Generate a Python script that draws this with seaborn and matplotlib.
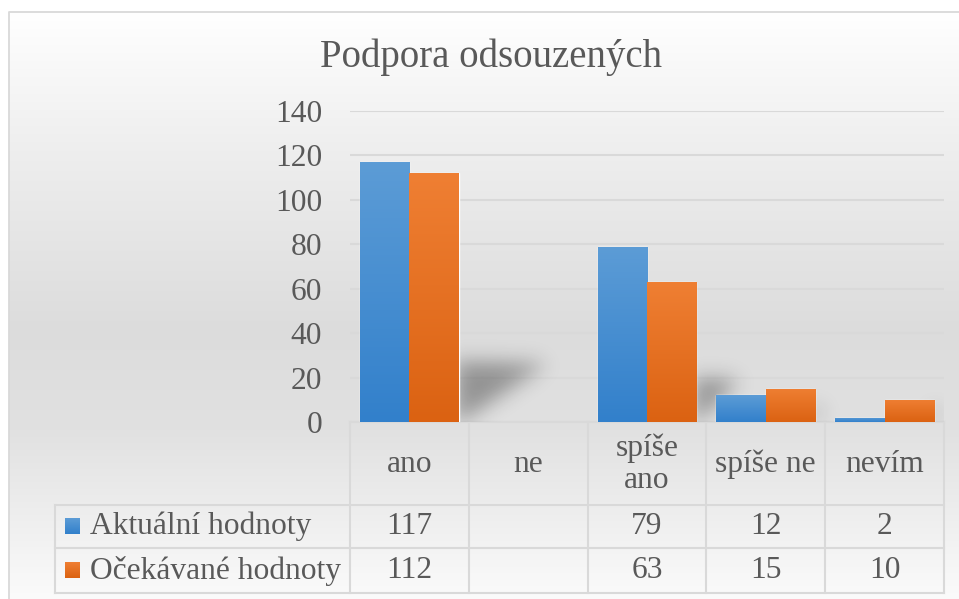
import numpy as np
import pandas as pd
import matplotlib
matplotlib.use("Agg")
import matplotlib.pyplot as plt
import seaborn as sns
from matplotlib.path import Path
from matplotlib.colors import to_rgb

# ---------------- data ----------------
title = "Podpora odsouzených"
categories = ["ano", "ne", "spíše ano", "spíše ne", "nevím"]
header_labels = ["ano", "ne", "spíše\nano", "spíše ne", "nevím"]
series = ["Aktuální hodnoty", "Očekávané hodnoty"]
aktualni = [117, np.nan, 79, 12, 2]
ocekavane = [112, np.nan, 63, 15, 10]
yticks = [0, 20, 40, 60, 80, 100, 120, 140]

# ---------------- style ----------------
sns.set_theme(style="white")
plt.rcParams['font.family'] = ['Liberation Serif', 'DejaVu Serif']

W, H = 959, 599
TXT = '#595959'
LINE = '#d9d9d9'
BLUE_TOP, BLUE_BOT = '#5c9cd6', '#3280cb'
ORG_TOP, ORG_BOT = '#ef7f33', '#db6212'
FS = 22.7

fig = plt.figure(figsize=(W / 100, H / 100), dpi=100)

# background (pixel coordinate axes)
bg = fig.add_axes([0, 0, 1, 1], zorder=-10)
bg.set_axis_off()
yy = np.arange(H)
col = np.interp(yy, [12, 150, 330, 430, 599], [255, 238, 220, 225, 251])
img = np.tile(col[:, None], (1, W))
img[:12, :] = 255
img[:, :9] = 255
bg.imshow(np.dstack([img] * 3) / 255.0, extent=[0, W, H, 0], aspect='auto',
          interpolation='bilinear')
bg.set_xlim(0, W)
bg.set_ylim(H, 0)
bg.plot([9, 9, W + 5], [H + 5, 12, 12], color=LINE, lw=1.3)

# main axes
AX_L, AX_R, AX_T, AX_B = 350, 944, 111, 422
ax = fig.add_axes([AX_L / W, (H - AX_B) / H, (AX_R - AX_L) / W, (AX_B - AX_T) / H])
ax.patch.set_alpha(0)

df = pd.DataFrame({
    "kategorie": categories * 2,
    "serie": [series[0]] * len(categories) + [series[1]] * len(categories),
    "hodnota": aktualni + ocekavane,
})
BW = 0.83
sns.barplot(data=df, x="kategorie", y="hodnota", hue="serie", order=categories,
            hue_order=series, palette=[BLUE_BOT, ORG_BOT], width=BW,
            saturation=1, errorbar=None, legend=False, ax=ax)

ax.set_xlim(-0.5, len(categories) - 0.5)
ax.set_ylim(0, 140)
ax.set_axisbelow(True)
ax.yaxis.grid(True, color=LINE, lw=1.5)
ax.xaxis.grid(False)
for s in ax.spines.values():
    s.set_visible(False)
ax.set_xticks([])
ax.set_yticks(yticks)
ax.set_yticklabels([str(v) for v in yticks], fontsize=FS, color=TXT)
ax.tick_params(axis='y', length=0, pad=20)
ax.set_xlabel('')
ax.set_ylabel('')

# gradient fill for bars
def grad(top, bot, n=128):
    t = np.linspace(0, 1, n)[:, None]
    a, b = np.array(to_rgb(top)), np.array(to_rgb(bot))
    return (a[None, None, :] * (1 - t[..., None]) + b[None, None, :] * t[..., None])

for p in list(ax.patches):
    h = p.get_height()
    if not np.isfinite(h) or h <= 0:
        continue
    fc = np.array(p.get_facecolor()[:3])
    if np.allclose(fc, to_rgb(BLUE_BOT), atol=0.02):
        g = grad(BLUE_TOP, BLUE_BOT)
    else:
        g = grad(ORG_TOP, ORG_BOT)
    p.set_zorder(2)
    x0, w = p.get_x(), p.get_width()
    im = ax.imshow(g, extent=[x0, x0 + w, 0, h], aspect='auto', zorder=2.1,
                   interpolation='bilinear', origin='upper')
    im.set_clip_path(p)

# soft shadow cast by each bar group (size follows the group's height)
nx, ny = AX_R - AX_L, AX_B - AX_T
px = -0.5 + (np.arange(nx) + 0.5) / nx * len(categories)
py = (ny - np.arange(ny) - 0.5) / ny * 140
XX, YY = np.meshgrid(px, py)
pts = np.column_stack([XX.ravel(), YY.ravel()])
mask = np.zeros(XX.size)
for i, (a, b) in enumerate(zip(aktualni, ocekavane)):
    if np.isnan(a) and np.isnan(b):
        continue
    hmax = np.nanmax([a, b])
    s = 4 + 0.2 * hmax
    L = 0.05 + 0.69 * (hmax / 117) ** 2
    xr = i + BW / 2
    poly = Path([(xr - 0.02, 0), (xr - 0.02, s), (xr + L, s * 0.96), (xr + 0.02, 0)])
    mask = np.maximum(mask, poly.contains_points(pts).astype(float))
mask = mask.reshape(ny, nx)
sig = 10
k = np.exp(-0.5 * (np.arange(-3 * sig, 3 * sig + 1) / sig) ** 2)
k /= k.sum()
mask = np.apply_along_axis(lambda r: np.convolve(r, k, mode='same'), 1, mask)
mask = np.apply_along_axis(lambda c: np.convolve(c, k, mode='same'), 0, mask)
rgba = np.zeros((ny, nx, 4))
rgba[..., 3] = np.clip(mask * 0.34, 0, 1)
ax.imshow(rgba, extent=[-0.5, len(categories) - 0.5, 0, 140], aspect='auto',
          zorder=1, interpolation='bilinear')
ax.set_xlim(-0.5, len(categories) - 0.5)
ax.set_ylim(0, 140)

# title
bg.text(491, 57, title, ha='center', va='center', fontsize=28, color=TXT)

# data table
col_edges = [AX_L + (AX_R - AX_L) / len(categories) * k_ for k_ in range(len(categories) + 1)]
TAB_L = 55
R0, R1, R2, R3 = AX_B, 505, 548, 593
lk = dict(color=LINE, lw=1.5, solid_capstyle='projecting')
bg.plot([AX_L, AX_R], [R0, R0], **lk)
for r in (R1, R2, R3):
    bg.plot([TAB_L, AX_R], [r, r], **lk)
for xe in col_edges:
    bg.plot([xe, xe], [R0, R3], **lk)
bg.plot([TAB_L, TAB_L], [R1, R3], **lk)

centers = [(col_edges[i] + col_edges[i + 1]) / 2 for i in range(len(categories))]
for cx, lab in zip(centers, header_labels):
    bg.text(cx, (R0 + R1) / 2 + 1, lab, ha='center', va='center', fontsize=FS,
            color=TXT, linespacing=1.12)

rows = [(series[0], aktualni, BLUE_TOP, BLUE_BOT, (R1 + R2) / 2),
        (series[1], ocekavane, ORG_TOP, ORG_BOT, (R2 + R3) / 2)]
for name, vals, ctop, cbot, cy in rows:
    bg.imshow(grad(ctop, cbot, 32), extent=[65, 80, cy + 8, cy - 8],
              aspect='auto', interpolation='bilinear', origin='upper')
    bg.text(90, cy, name, ha='left', va='center', fontsize=FS, color=TXT)
    for cx, v in zip(centers, vals):
        if np.isfinite(v):
            bg.text(cx, cy, f"{v:g}", ha='center', va='center', fontsize=FS, color=TXT)
bg.set_xlim(0, W)
bg.set_ylim(H, 0)

fig.savefig("out.png", dpi=100)
